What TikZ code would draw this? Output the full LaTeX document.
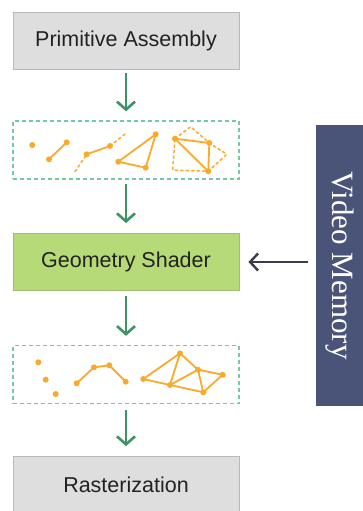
\documentclass[tikz,border=0pt]{standalone}
\usepackage{fontspec}
\setsansfont{Liberation Sans}
\newfontfamily\vmfont{Liberation Serif}
\usepackage{tikz}
\usetikzlibrary{arrows.meta, positioning}

\definecolor{stagefill}{RGB}{222,222,222}
\definecolor{stageline}{RGB}{185,185,185}
\definecolor{shaderfill}{RGB}{183,218,120}
\definecolor{shaderline}{RGB}{160,192,110}
\definecolor{flowgreen}{RGB}{59,147,102}
\definecolor{dashgreen}{RGB}{120,200,160}
\definecolor{primorange}{RGB}{250,170,40}
\definecolor{vmfill}{RGB}{74,84,120}
\definecolor{fetchgray}{RGB}{62,58,75}
\definecolor{textdark}{RGB}{34,34,34}

\begin{document}
\begin{tikzpicture}[
  x=1pt, y=-1pt,
  stage/.style={rectangle, draw=stageline, fill=stagefill, line width=0.8pt,
                minimum width=226pt, minimum height=57pt, text=textdark,
                font=\sffamily\fontsize{21.5}{24}\selectfont},
  shader/.style={stage, draw=shaderline, fill=shaderfill},
  prims/.style={rectangle, draw=dashgreen, line width=1.3pt,
                dash pattern=on 4pt off 3pt, minimum width=226pt,
                minimum height=58pt},
  memory/.style={rectangle, fill=vmfill, text=white, rotate=-90,
                 minimum width=281pt, minimum height=47pt,
                 font=\vmfont\fontsize{31}{34}\selectfont},
  flow/.style={-{Straight Barb[length=8pt, width=18pt]}, line width=2.6pt,
               draw=flowgreen},
  fetch/.style={-{Straight Barb[length=8pt, width=17pt]}, line width=2.4pt,
                draw=fetchgray},
  edge/.style={draw=primorange, line width=1.8pt, line cap=round},
  adj/.style={edge, line width=1.5pt, dash pattern=on 2.5pt off 3pt},
  vert/.style={fill=primorange},
]
\useasboundingbox (0,0) rectangle (363,511);

% ---- pipeline stages ----
\node[stage]  (pa) at (126, 40.5) {Primitive Assembly};
\node[prims]  (prims-in)  at (126, 150)   {};
\node[shader] (gs) at (126, 262)  {Geometry Shader};
\node[prims]  (prims-out) at (126, 374.5) {};
\node[stage]  (ras) at (126, 485) {Rasterization};

\node[memory] (vm) at (339.5, 265.5) {Video Memory};

% ---- flow ----
\draw[flow, shorten <=4pt, shorten >=9pt] (pa) -- (prims-in);
\draw[flow, shorten <=4pt, shorten >=10pt] (prims-in) -- (gs);
\draw[flow, shorten <=5pt, shorten >=9pt] (gs) -- (prims-out);
\draw[flow, shorten <=6pt, shorten >=10pt] (prims-out) -- (ras);
\draw[fetch, shorten <=8pt, shorten >=9pt] (vm.south |- gs.east) -- (gs.east);

% ---- input primitives ----
\coordinate (p1) at (32.3, 145);
\coordinate (l1) at (49, 159.3);   \coordinate (l2) at (66.7, 142.3);
\coordinate (s0) at (75, 171.7);   \coordinate (s1) at (86.7, 154.3);
\coordinate (s2) at (110, 146);    \coordinate (s3) at (125, 134);
\coordinate (t1) at (118.3, 161.7);\coordinate (t2) at (145.7, 167.7);
\coordinate (t3) at (155.7, 134.3);
\coordinate (a1) at (175, 138.7);  \coordinate (a2) at (209.3, 143);
\coordinate (a3) at (208.3, 171.3);
\coordinate (b1) at (190.7, 126.7);\coordinate (b2) at (226.7, 154.3);
\coordinate (b3) at (172.7, 170);

\draw[edge] (l1) -- (l2);
\draw[adj]  (s0) -- (s1);
\draw[edge] (s1) -- (s2);
\draw[adj]  (s2) -- (s3);
\draw[edge] (t1) -- (t2) -- (t3) -- cycle;
\draw[adj]  (a1) -- (b1) -- (a2) -- (b2) -- (a3) -- (b3) -- (a1);
\draw[edge] (a1) -- (a2) -- (a3) -- cycle;

\foreach \v in {p1, l1, l2, s1, s2, t1, t2, t3, a1, a2, a3}
  \fill[vert] (\v) circle (3pt);

% ---- output primitives ----
\coordinate (q1) at (38.3, 362.3); \coordinate (q2) at (45.7, 379.7);
\coordinate (q3) at (55.7, 394);
\coordinate (r1) at (76.7, 383.3); \coordinate (r2) at (94, 367.3);
\coordinate (r3) at (109.3, 365.3);\coordinate (r4) at (125.7, 381.7);
\coordinate (m1) at (143.3, 379);  \coordinate (m2) at (180, 353.3);
\coordinate (m3) at (170, 385);    \coordinate (m4) at (198, 369.7);
\coordinate (m5) at (203.3, 392.3);\coordinate (m6) at (222.7, 374.7);

\draw[edge] (r1) -- (r2) -- (r3) -- (r4);
\draw[edge] (m1) -- (m2) -- (m4) -- (m6) -- (m5) -- (m3) -- cycle;
\draw[edge] (m2) -- (m3) -- (m4) -- (m5);

\foreach \v in {q1, q2, q3, r1, r2, r3, r4, m1, m2, m3, m4, m5, m6}
  \fill[vert] (\v) circle (3pt);

\end{tikzpicture}
\end{document}
